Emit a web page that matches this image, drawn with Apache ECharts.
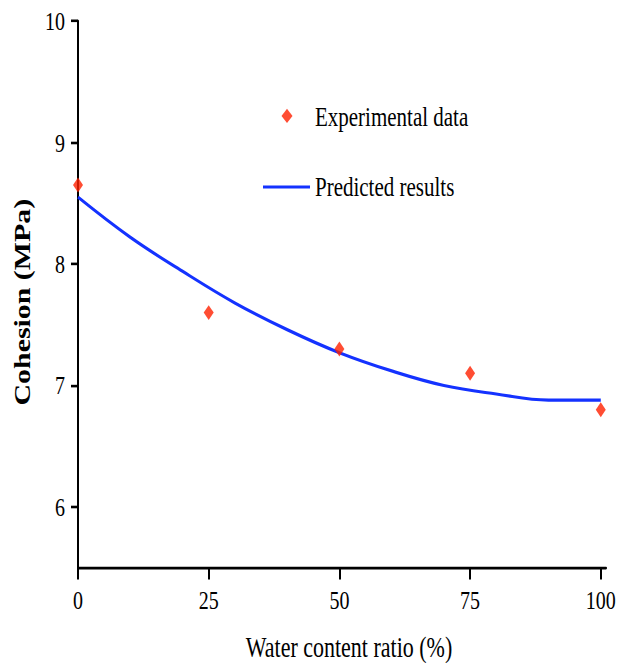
<!DOCTYPE html>
<html>
<head>
<meta charset="utf-8">
<script src="https://cdn.jsdelivr.net/npm/echarts@6/dist/echarts.min.js"></script>
<style>
  html, body { margin: 0; padding: 0; background: #fff; }
  #frame { width: 625px; height: 663px; position: relative; overflow: hidden; }
  /* the figure is drawn 625 wide and stretched vertically by 1.3 */
  #chart { position: absolute; left: 0; top: 0; width: 625px; height: 520px; transform: scaleY(1.3); transform-origin: 0 0; }
</style>
</head>
<body>
<div id="frame"><div id="chart"></div></div>
<script>
// Measured cohesion at each water content ratio
const waterRatio = [0, 25, 50, 75, 100];
const cohesion = [8.65, 7.6, 7.3, 7.1, 6.8];

// Fitted prediction curve
const predX = [0, 10, 20, 30, 40, 50, 60, 70, 80, 90, 100];
const predY = [8.55, 8.22, 7.94, 7.68, 7.46, 7.27, 7.12, 7.00, 6.93, 6.88, 6.88];

const xTicks = [0, 25, 50, 75, 100];
const yTicks = [6, 7, 8, 9, 10];

const serif = '"Liberation Serif", "Times New Roman", serif';

const el = document.getElementById('chart');
const chart = echarts.init(el, null, { renderer: 'svg', width: 625, height: 520 });

chart.setOption({
  animation: false,
  backgroundColor: '#fff',
  grid: { left: 78, right: 19, top: 16.2, bottom: 83.3, containLabel: false, outerBoundsMode: 'none' },
  legend: [
    {
      data: [{ name: 'Experimental data', icon: 'diamond' }],
      left: 281.5, top: 78.7, padding: 0,
      itemWidth: 11, itemHeight: 11,
      textStyle: { fontFamily: serif, fontSize: 21, color: '#000', padding: [0, 0, 0, 17.5] },
      selectedMode: false
    },
    {
      data: [{ name: 'Predicted results', icon: 'rect' }],
      left: 263, top: 133.3, padding: 0,
      itemWidth: 47, itemHeight: 2.4,
      textStyle: { fontFamily: serif, fontSize: 21, color: '#000' },
      selectedMode: false
    }
  ],
  xAxis: {
    type: 'value',
    min: 0, max: 101,
    name: 'Water content ratio (%)',
    nameLocation: 'middle', nameGap: 50,
    nameTextStyle: { fontFamily: serif, fontSize: 22, color: '#000', padding: [0, 0, 0, 14] },
    axisLine: { show: true, onZero: false, lineStyle: { color: '#000', width: 2 } },
    axisTick: { show: true, length: 9, customValues: xTicks, lineStyle: { color: '#000', width: 2 } },
    axisLabel: { fontFamily: serif, fontSize: 20, color: '#000', margin: 15, customValues: xTicks },
    splitLine: { show: false }
  },
  yAxis: {
    type: 'value',
    min: 5.5, max: 10,
    name: 'Cohesion (MPa)',
    nameLocation: 'middle', nameGap: 44, nameRotate: 90,
    nameTextStyle: { fontFamily: serif, fontSize: 23, fontWeight: 'bold', color: '#000', padding: [0, 12, 0, 0] },
    axisLine: { show: true, onZero: false, lineStyle: { color: '#000', width: 2 } },
    axisTick: { show: true, length: 7, customValues: yTicks, lineStyle: { color: '#000', width: 2 } },
    axisLabel: { fontFamily: serif, fontSize: 20, color: '#000', margin: 13, customValues: yTicks },
    splitLine: { show: false }
  },
  series: [
    {
      name: 'Predicted results',
      type: 'line',
      data: predX.map((x, i) => [x, predY[i]]),
      smooth: 0.4,
      symbol: 'none',
      lineStyle: { color: '#1432ff', width: 2.5 },
      itemStyle: { color: '#1432ff' },
      z: 2
    },
    {
      name: 'Experimental data',
      type: 'scatter',
      data: waterRatio.map((x, i) => [x, cohesion[i]]),
      symbol: 'diamond',
      symbolSize: [10, 11.5],
      itemStyle: { color: '#ff2000' },
      clip: false,
      z: 3
    }
  ]
});
</script>
</body>
</html>
